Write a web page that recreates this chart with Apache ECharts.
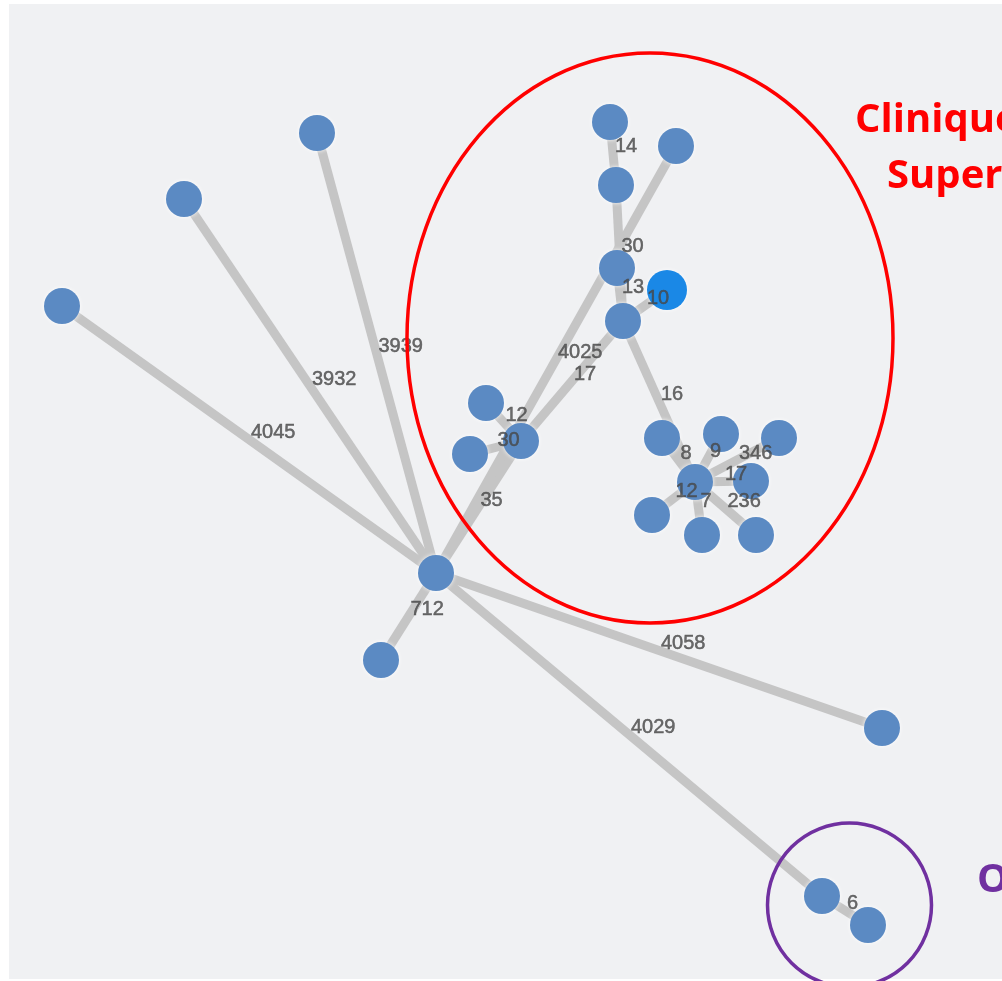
<!DOCTYPE html>
<html><head><meta charset="utf-8">
<script src="https://cdn.jsdelivr.net/npm/echarts@6/dist/echarts.min.js"></script>
<style>html,body{margin:0;padding:0;background:#fff;overflow:hidden}#main{width:1002px;height:981px}</style>
</head><body><div id="main"></div>
<script>
// Node positions (in picture pixel units)
const nodeX = [436,317,184,62,381,882,822,868,521,486,470,676,623,617,616,610,667,695,662,721,779,751,652,702,756];
const nodeY = [573,133,199,306,660,728,896,925,441,403,454,146,321,268,185,122,290,482,438,434,438,481,515,535,535];
const highlightNode = 16;
// Edges
const linkSource = [0,0,0,0,0,0,6,0,8,8,0,8,12,12,14,12,12,17,17,17,17,17,17,17];
const linkTarget = [1,2,3,4,5,6,7,8,9,10,11,12,13,14,15,16,17,18,19,20,21,22,23,24];
const linkLabels = ['3939','3932','4045','712','4058','4029','6','35','12','30','4025','17','13','30','14','10','16','8','9','346','17','12','7','236'];

const nodes = nodeX.map((x,i)=>{
  const n = {name:String(i), value:[x,nodeY[i]]};
  if(i===highlightNode){ n.symbolSize = 40; n.itemStyle = {color:'#1a88e6'}; }
  return n;
});
const links = linkSource.map((s,i)=>({source:String(s), target:String(linkTarget[i])}));
const labelPts = linkSource.map((s,i)=>{
  const t = linkTarget[i];
  return {name:linkLabels[i], value:[(nodeX[s]+nodeX[t])/2,(nodeY[s]+nodeY[t])/2]};
});

const chart = echarts.init(document.getElementById('main'));
chart.setOption({
  animation:false,
  backgroundColor:'#ffffff',
  grid:{left:0,right:0,top:0,bottom:0},
  xAxis:{type:'value',min:0,max:1002,show:false},
  yAxis:{type:'value',min:0,max:981,inverse:true,show:false},
  graphic:[
    {type:'rect',z:-10,silent:true,shape:{x:9,y:4,width:993,height:975},style:{fill:'#f0f1f3'}},
    {type:'ellipse',z:100,silent:true,shape:{cx:650,cy:338,rx:243,ry:285},style:{fill:'none',stroke:'#ff0000',lineWidth:3.5}},
    {type:'circle',z:100,silent:true,shape:{cx:849.5,cy:905,r:82},style:{fill:'none',stroke:'#7030a0',lineWidth:3.5}},
    {type:'text',z:100,silent:true,style:{x:855,y:121,text:'Clinique',fill:'#ff0000',font:'bold 40px "Open Sans"',verticalAlign:'middle'}},
    {type:'text',z:100,silent:true,style:{x:887,y:177,text:'Super',fill:'#ff0000',font:'bold 40px "Open Sans"',verticalAlign:'middle'}},
    {type:'text',z:100,silent:true,style:{x:977,y:881,text:'O',fill:'#7030a0',font:'bold 40px "Open Sans"',verticalAlign:'middle'}}
  ],
  series:[
    {
      type:'graph',
      coordinateSystem:'cartesian2d',
      silent:true,
      symbol:'circle',
      symbolSize:36,
      itemStyle:{color:'#5b8ac3',shadowBlur:4,shadowColor:'rgba(255,255,255,0.9)'},
      lineStyle:{color:'#c5c5c5',width:9,opacity:1,curveness:0},
      label:{show:false},
      edgeLabel:{show:false},
      data:nodes,
      links:links,
      z:2
    },
    {
      type:'scatter',
      silent:true,
      symbolSize:0,
      z:5,
      label:{show:true,position:'right',distance:2,offset:[0,-7],formatter:'{b}',
        color:'#474747',textBorderColor:'#474747',textBorderWidth:0.5,
        fontSize:20,fontFamily:'Liberation Sans, Arial, sans-serif'},
      data:labelPts
    }
  ]
});
</script></body></html>
